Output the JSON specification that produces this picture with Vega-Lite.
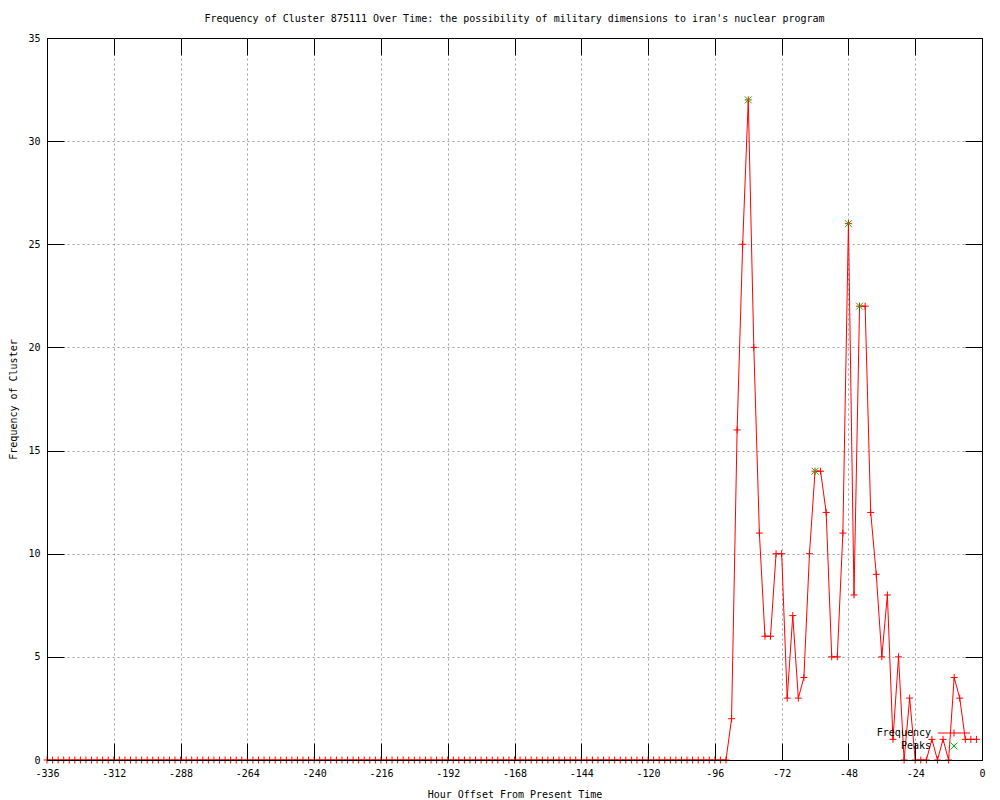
{
  "$schema": "https://vega.github.io/schema/vega-lite/v6.json",
  "width": 935,
  "height": 722,
  "autosize": "none",
  "padding": {"left": 47, "top": 38, "right": 18, "bottom": 40},
  "background": "white",
  "title": {
    "text": "Frequency of Cluster 875111 Over Time: the possibility of military dimensions to iran's nuclear program",
    "font": "DejaVu Sans Mono",
    "fontSize": 10,
    "fontWeight": "normal",
    "color": "black",
    "anchor": "middle",
    "offset": 9
  },
  "config": {
    "view": {"stroke": "black", "strokeWidth": 1},
    "axis": {
      "labelFont": "DejaVu Sans Mono",
      "labelFontSize": 10,
      "labelColor": "black",
      "titleFont": "DejaVu Sans Mono",
      "titleFontSize": 10,
      "titleFontWeight": "normal",
      "titleColor": "black",
      "tickColor": "black",
      "tickWidth": 1,
      "domainColor": "black",
      "domainWidth": 1,
      "gridColor": "#a0a0a0",
      "gridDash": [2, 3],
      "gridWidth": 1
    }
  },
  "datasets": {
    "freq": [
      {"h": -336, "f": 0}, {"h": -334, "f": 0}, {"h": -332, "f": 0}, {"h": -330, "f": 0}, {"h": -328, "f": 0}, {"h": -326, "f": 0},
      {"h": -324, "f": 0}, {"h": -322, "f": 0}, {"h": -320, "f": 0}, {"h": -318, "f": 0}, {"h": -316, "f": 0}, {"h": -314, "f": 0},
      {"h": -312, "f": 0}, {"h": -310, "f": 0}, {"h": -308, "f": 0}, {"h": -306, "f": 0}, {"h": -304, "f": 0}, {"h": -302, "f": 0},
      {"h": -300, "f": 0}, {"h": -298, "f": 0}, {"h": -296, "f": 0}, {"h": -294, "f": 0}, {"h": -292, "f": 0}, {"h": -290, "f": 0},
      {"h": -288, "f": 0}, {"h": -286, "f": 0}, {"h": -284, "f": 0}, {"h": -282, "f": 0}, {"h": -280, "f": 0}, {"h": -278, "f": 0},
      {"h": -276, "f": 0}, {"h": -274, "f": 0}, {"h": -272, "f": 0}, {"h": -270, "f": 0}, {"h": -268, "f": 0}, {"h": -266, "f": 0},
      {"h": -264, "f": 0}, {"h": -262, "f": 0}, {"h": -260, "f": 0}, {"h": -258, "f": 0}, {"h": -256, "f": 0}, {"h": -254, "f": 0},
      {"h": -252, "f": 0}, {"h": -250, "f": 0}, {"h": -248, "f": 0}, {"h": -246, "f": 0}, {"h": -244, "f": 0}, {"h": -242, "f": 0},
      {"h": -240, "f": 0}, {"h": -238, "f": 0}, {"h": -236, "f": 0}, {"h": -234, "f": 0}, {"h": -232, "f": 0}, {"h": -230, "f": 0},
      {"h": -228, "f": 0}, {"h": -226, "f": 0}, {"h": -224, "f": 0}, {"h": -222, "f": 0}, {"h": -220, "f": 0}, {"h": -218, "f": 0},
      {"h": -216, "f": 0}, {"h": -214, "f": 0}, {"h": -212, "f": 0}, {"h": -210, "f": 0}, {"h": -208, "f": 0}, {"h": -206, "f": 0},
      {"h": -204, "f": 0}, {"h": -202, "f": 0}, {"h": -200, "f": 0}, {"h": -198, "f": 0}, {"h": -196, "f": 0}, {"h": -194, "f": 0},
      {"h": -192, "f": 0}, {"h": -190, "f": 0}, {"h": -188, "f": 0}, {"h": -186, "f": 0}, {"h": -184, "f": 0}, {"h": -182, "f": 0},
      {"h": -180, "f": 0}, {"h": -178, "f": 0}, {"h": -176, "f": 0}, {"h": -174, "f": 0}, {"h": -172, "f": 0}, {"h": -170, "f": 0},
      {"h": -168, "f": 0}, {"h": -166, "f": 0}, {"h": -164, "f": 0}, {"h": -162, "f": 0}, {"h": -160, "f": 0}, {"h": -158, "f": 0},
      {"h": -156, "f": 0}, {"h": -154, "f": 0}, {"h": -152, "f": 0}, {"h": -150, "f": 0}, {"h": -148, "f": 0}, {"h": -146, "f": 0},
      {"h": -144, "f": 0}, {"h": -142, "f": 0}, {"h": -140, "f": 0}, {"h": -138, "f": 0}, {"h": -136, "f": 0}, {"h": -134, "f": 0},
      {"h": -132, "f": 0}, {"h": -130, "f": 0}, {"h": -128, "f": 0}, {"h": -126, "f": 0}, {"h": -124, "f": 0}, {"h": -122, "f": 0},
      {"h": -120, "f": 0}, {"h": -118, "f": 0}, {"h": -116, "f": 0}, {"h": -114, "f": 0}, {"h": -112, "f": 0}, {"h": -110, "f": 0},
      {"h": -108, "f": 0}, {"h": -106, "f": 0}, {"h": -104, "f": 0}, {"h": -102, "f": 0}, {"h": -100, "f": 0}, {"h": -98, "f": 0},
      {"h": -96, "f": 0}, {"h": -94, "f": 0}, {"h": -92, "f": 0}, {"h": -90, "f": 2}, {"h": -88, "f": 16}, {"h": -86, "f": 25},
      {"h": -84, "f": 32}, {"h": -82, "f": 20}, {"h": -80, "f": 11}, {"h": -78, "f": 6}, {"h": -76, "f": 6}, {"h": -74, "f": 10},
      {"h": -72, "f": 10}, {"h": -70, "f": 3}, {"h": -68, "f": 7}, {"h": -66, "f": 3}, {"h": -64, "f": 4}, {"h": -62, "f": 10},
      {"h": -60, "f": 14}, {"h": -58, "f": 14}, {"h": -56, "f": 12}, {"h": -54, "f": 5}, {"h": -52, "f": 5}, {"h": -50, "f": 11},
      {"h": -48, "f": 26}, {"h": -46, "f": 8}, {"h": -44, "f": 22}, {"h": -42, "f": 22}, {"h": -40, "f": 12}, {"h": -38, "f": 9},
      {"h": -36, "f": 5}, {"h": -34, "f": 8}, {"h": -32, "f": 1}, {"h": -30, "f": 5}, {"h": -28, "f": 0}, {"h": -26, "f": 3},
      {"h": -24, "f": 0}, {"h": -22, "f": 0}, {"h": -20, "f": 0}, {"h": -18, "f": 1}, {"h": -16, "f": 0}, {"h": -14, "f": 1},
      {"h": -12, "f": 0}, {"h": -10, "f": 4}, {"h": -8, "f": 3}, {"h": -6, "f": 1}, {"h": -4, "f": 1}, {"h": -2, "f": 1}
    ],
    "peaks": [
      {"h": -84, "f": 32}, {"h": -60, "f": 14}, {"h": -48, "f": 26}, {"h": -44, "f": 22}
    ]
  },
  "resolve": {"axis": {"x": "independent", "y": "independent"}},
  "layer": [
    {
      "data": {"name": "peaks"},
      "mark": {"type": "point", "shape": "M-1,-1L1,1M-1,1L1,-1", "size": 49, "filled": false, "strokeWidth": 1, "opacity": 0},
      "encoding": {
        "x": {
          "field": "h", "type": "quantitative",
          "scale": {"domain": [-336, 0], "nice": false, "zero": false},
          "axis": {
            "orient": "bottom", "title": null, "labels": false, "ticks": false, "domain": false, "grid": true, "zindex": 0,
            "values": [-312, -288, -264, -240, -216, -192, -168, -144, -120, -96, -72, -48, -24]
          }
        },
        "y": {
          "field": "f", "type": "quantitative",
          "scale": {"domain": [0, 35], "nice": false},
          "axis": {
            "orient": "left", "title": null, "labels": false, "ticks": false, "domain": false, "grid": true, "zindex": 0,
            "values": [5, 10, 15, 20, 25, 30]
          }
        },
        "color": {"datum": "Peaks", "type": "nominal"}
      }
    },
    {
      "data": {"name": "freq"},
      "mark": {"type": "line", "strokeWidth": 1, "interpolate": "linear"},
      "encoding": {
        "x": {
          "field": "h", "type": "quantitative",
          "axis": {
            "orient": "bottom",
            "title": "Hour Offset From Present Time",
            "values": [-336, -312, -288, -264, -240, -216, -192, -168, -144, -120, -96, -72, -48, -24, 0],
            "labelExpr": "'' + datum.value",
            "offset": -17,
            "tickSize": 17,
            "labelPadding": 8,
            "titlePadding": 11,
            "grid": false,
            "domain": false,
            "labelFlush": false,
            "zindex": 1
          }
        },
        "y": {
          "field": "f", "type": "quantitative",
          "axis": {
            "orient": "left",
            "title": "Frequency of Cluster",
            "values": [0, 5, 10, 15, 20, 25, 30, 35],
            "offset": -17,
            "tickSize": 17,
            "labelPadding": 7,
            "titlePadding": 9,
            "grid": false,
            "domain": false,
            "labelFlush": false,
            "zindex": 1
          }
        },
        "color": {
          "datum": "Frequency", "type": "nominal",
          "scale": {"domain": ["Frequency", "Peaks"], "range": ["#ff0000", "#00c000"]},
          "legend": {
            "title": null,
            "orient": "none",
            "legendX": 902,
            "legendY": 690,
            "padding": 0,
            "labelFont": "DejaVu Sans Mono",
            "labelFontSize": 10,
            "labelColor": "black",
            "labelAlign": "right",
            "labelOffset": -28,
            "symbolSize": 49,
            "rowPadding": 1,
            "encode": {
              "symbols": {
                "update": {
                  "shape": {"signal": "datum.value === 'Frequency' ? 'M-4.6,0H4.6M0,-1V1' : 'M-1,-1L1,1M-1,1L1,-1'"},
                  "size": {"value": 49},
                  "fill": {"value": "transparent"},
                  "stroke": {"signal": "datum.value === 'Frequency' ? '#ff0000' : '#00c000'"},
                  "strokeWidth": {"value": 1},
                  "opacity": {"value": 1}
                }
              }
            }
          }
        }
      }
    },
    {
      "data": {"name": "freq"},
      "mark": {"type": "point", "shape": "M-1,0H1M0,-1V1", "size": 49, "filled": false, "strokeWidth": 1, "opacity": 1},
      "encoding": {
        "x": {
          "field": "h", "type": "quantitative",
          "axis": {
            "orient": "top", "title": null, "labels": false, "grid": false, "domain": false,
            "values": [-336, -312, -288, -264, -240, -216, -192, -168, -144, -120, -96, -72, -48, -24, 0],
            "offset": -17,
            "tickSize": 17,
            "zindex": 1
          }
        },
        "y": {
          "field": "f", "type": "quantitative",
          "axis": {
            "orient": "right", "title": null, "labels": false, "grid": false, "domain": false,
            "values": [0, 5, 10, 15, 20, 25, 30, 35],
            "offset": -17,
            "tickSize": 17,
            "zindex": 1
          }
        },
        "color": {"datum": "Frequency", "type": "nominal"}
      }
    },
    {
      "data": {"name": "peaks"},
      "mark": {"type": "point", "shape": "M-1,-1L1,1M-1,1L1,-1", "size": 49, "filled": false, "strokeWidth": 1, "opacity": 1},
      "encoding": {
        "x": {
          "field": "h", "type": "quantitative",
          "axis": {"orient": "bottom", "title": null, "labels": false, "ticks": false, "grid": false, "domain": true, "zindex": 1}
        },
        "y": {
          "field": "f", "type": "quantitative",
          "axis": {"orient": "left", "title": null, "labels": false, "ticks": false, "grid": false, "domain": true, "zindex": 1}
        },
        "color": {"datum": "Peaks", "type": "nominal"}
      }
    }
  ]
}
